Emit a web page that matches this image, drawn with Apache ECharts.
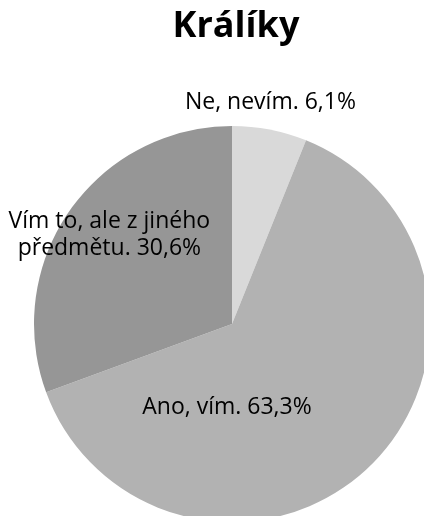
<!DOCTYPE html>
<html>
<head>
<meta charset="utf-8">
<script src="https://cdn.jsdelivr.net/npm/echarts@6/dist/echarts.min.js"></script>
<style>
  html, body { margin: 0; padding: 0; background: #fff; }
  #chart { width: 424px; height: 516px; }
</style>
</head>
<body>
<div id="chart"></div>
<script>
// data
const categories = ['Ne, nevím', 'Ano, vím', 'Vím to, ale z jiného\npředmětu']
const shares = [6.1, 63.3, 30.6]
const sliceColors = ['#d9d9d9', '#b2b2b2', '#969696']
// label nudges from the 'inside' anchor
const labelOffsets = [[19, -121], [-76, 10], [-39, -31]]

const chart = echarts.init(document.getElementById('chart'))

chart.setOption({
  animation: false,
  title: {
    text: 'Králíky',
    left: 231,
    textAlign: 'center',
    top: 4,
    textStyle: {
      fontFamily: 'Open Sans',
      fontWeight: 'bold',
      fontSize: 36,
      color: '#000'
    }
  },
  series: [{
    type: 'pie',
    center: [232, 324],
    radius: 198,
    startAngle: 90,
    clockwise: true,
    silent: true,
    itemStyle: { borderWidth: 0 },
    label: {
      show: true,
      position: 'inside',
      fontFamily: 'Open Sans',
      fontSize: 23,
      lineHeight: 27,
      color: '#000',
      formatter: p => p.name + '. ' + p.value.toFixed(1).replace('.', ',') + '%'
    },
    labelLine: { show: false },
    data: categories.map((name, i) => ({
      name: name,
      value: shares[i],
      itemStyle: { color: sliceColors[i] },
      label: { offset: labelOffsets[i] }
    }))
  }]
})
</script>
</body>
</html>
